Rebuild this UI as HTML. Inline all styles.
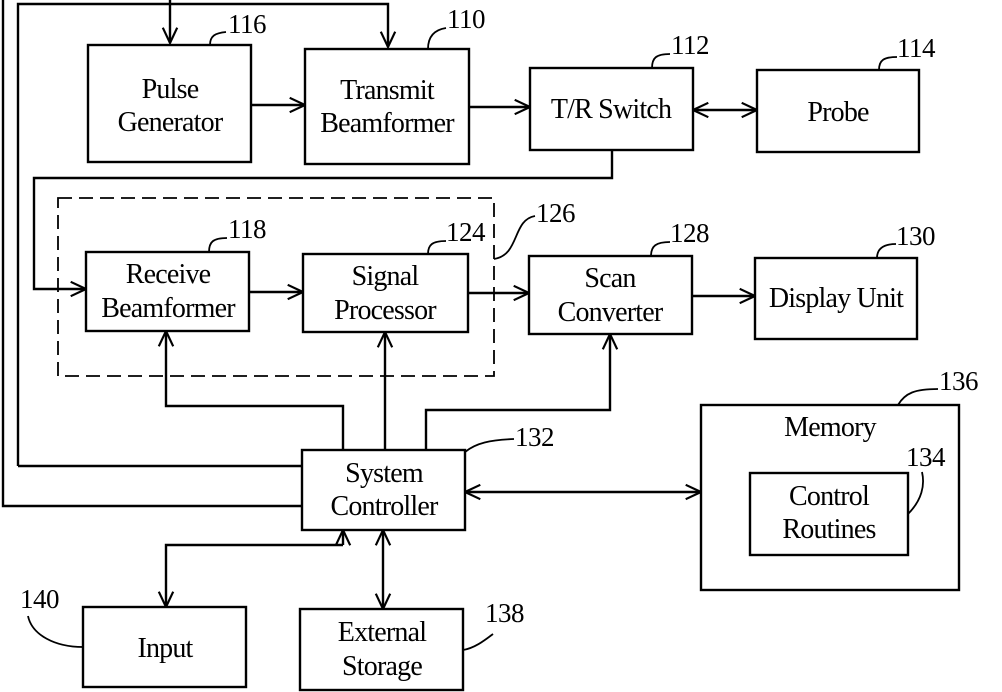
<!DOCTYPE html>
<html><head><style>html,body{margin:0;padding:0;background:#fff}svg{display:block}</style></head><body>
<svg width="1002" height="692" viewBox="0 0 1002 692" xmlns="http://www.w3.org/2000/svg" font-family="Liberation Serif, serif" font-size="25" fill="none" stroke="#000" stroke-width="2.4">
<defs>
<marker id="a" viewBox="0 0 20 20" refX="19" refY="10" markerWidth="18" markerHeight="18" markerUnits="userSpaceOnUse" orient="auto-start-reverse"><path d="M2,2 L19,10 L2,18" fill="none" stroke="#000" stroke-width="2.4"/></marker>
</defs>
<rect x="88" y="45" width="163" height="117"/>
<rect x="305" y="49" width="164" height="115"/>
<rect x="530" y="68" width="163" height="82"/>
<rect x="757" y="70" width="162" height="82"/>
<rect x="86" y="252" width="163" height="79"/>
<rect x="303" y="254" width="165" height="78"/>
<rect x="529" y="256" width="163" height="78"/>
<rect x="755" y="258" width="162" height="81"/>
<rect x="302" y="450" width="163" height="80"/>
<rect x="83" y="607" width="163" height="80"/>
<rect x="300" y="609" width="163" height="81"/>
<rect x="701" y="405" width="258" height="185"/>
<rect x="750" y="473" width="158" height="82"/>
<rect x="58" y="198" width="436" height="178" stroke-dasharray="14,7" stroke-width="1.8"/>
<path d="M3,0 V506 H302"/>
<path d="M18,466 V4 H388 V47" marker-end="url(#a)"/>
<path d="M170,0 V43" marker-end="url(#a)"/>
<path d="M251,105 H305" marker-end="url(#a)"/>
<path d="M469,107 H530" marker-end="url(#a)"/>
<path d="M693,110 H757" marker-start="url(#a)" marker-end="url(#a)"/>
<path d="M612,150 V178 H34 V289 H86" marker-end="url(#a)"/>
<path d="M249,292 H303" marker-end="url(#a)"/>
<path d="M468,293 H529" marker-end="url(#a)"/>
<path d="M692,296 H755" marker-end="url(#a)"/>
<path d="M18,466 H302"/>
<path d="M343,450 V406 H166 V331" marker-end="url(#a)"/>
<path d="M385,450 V332" marker-end="url(#a)"/>
<path d="M426,450 V410 H610 V334" marker-end="url(#a)"/>
<path d="M465,492 H701" marker-start="url(#a)" marker-end="url(#a)"/>
<path d="M343,545 V530" marker-end="url(#a)"/>
<path d="M343,545 H166 V607" marker-end="url(#a)"/>
<path d="M383,530 V609" marker-start="url(#a)" marker-end="url(#a)"/>
<g stroke-width="1.8">
<path d="M210,45 C210,36 215,33 226,32"/>
<path d="M428,49 C428,38 433,30 446,28"/>
<path d="M652,68 C652,58 656,54 670,54"/>
<path d="M879,70 C879,60 884,57 897,57"/>
<path d="M209,252 C209,242 213,238 227,238"/>
<path d="M428,254 C428,245 432,241 446,241"/>
<path d="M494,259 C520,255 512,220 535,216"/>
<path d="M651,256 C651,246 656,242 670,242"/>
<path d="M877,258 C877,250 882,244 896,244"/>
<path d="M898,405 C905,393 915,389 938,389"/>
<path d="M908,514 C922,500 925,485 922,472"/>
<path d="M465,452 C476,443 490,440 514,439"/>
<path d="M83,647 C55,647 32,635 28,616"/>
<path d="M463,650 C475,648 485,640 493,634"/>
</g>
<g fill="#000" stroke="none" text-anchor="middle" font-size="28" letter-spacing="-0.8">
<text x="170" y="98">Pulse</text><text x="170" y="131">Generator</text>
<text x="387" y="99">Transmit</text><text x="387" y="132">Beamformer</text>
<text x="611" y="118">T/R Switch</text>
<text x="838" y="121">Probe</text>
<text x="168" y="283">Receive</text><text x="168" y="317">Beamformer</text>
<text x="385" y="285">Signal</text><text x="385" y="319">Processor</text>
<text x="610" y="287">Scan</text><text x="610" y="321">Converter</text>
<text x="836" y="307">Display Unit</text>
<text x="384" y="482">System</text><text x="384" y="515">Controller</text>
<text x="165" y="657">Input</text>
<text x="382" y="641">External</text><text x="382" y="675">Storage</text>
<text x="830" y="436">Memory</text>
<text x="829" y="505">Control</text><text x="829" y="538">Routines</text>
</g>
<g fill="#000" stroke="none" font-size="27" letter-spacing="-0.5">
<text x="228" y="33">116</text>
<text x="447" y="28">110</text>
<text x="671" y="54">112</text>
<text x="897" y="57">114</text>
<text x="228" y="238">118</text>
<text x="446" y="241">124</text>
<text x="536" y="222">126</text>
<text x="670" y="242">128</text>
<text x="896" y="245">130</text>
<text x="939" y="390">136</text>
<text x="906" y="466">134</text>
<text x="515" y="446">132</text>
<text x="20" y="608">140</text>
<text x="485" y="622">138</text>
</g>
</svg>
</body></html>
